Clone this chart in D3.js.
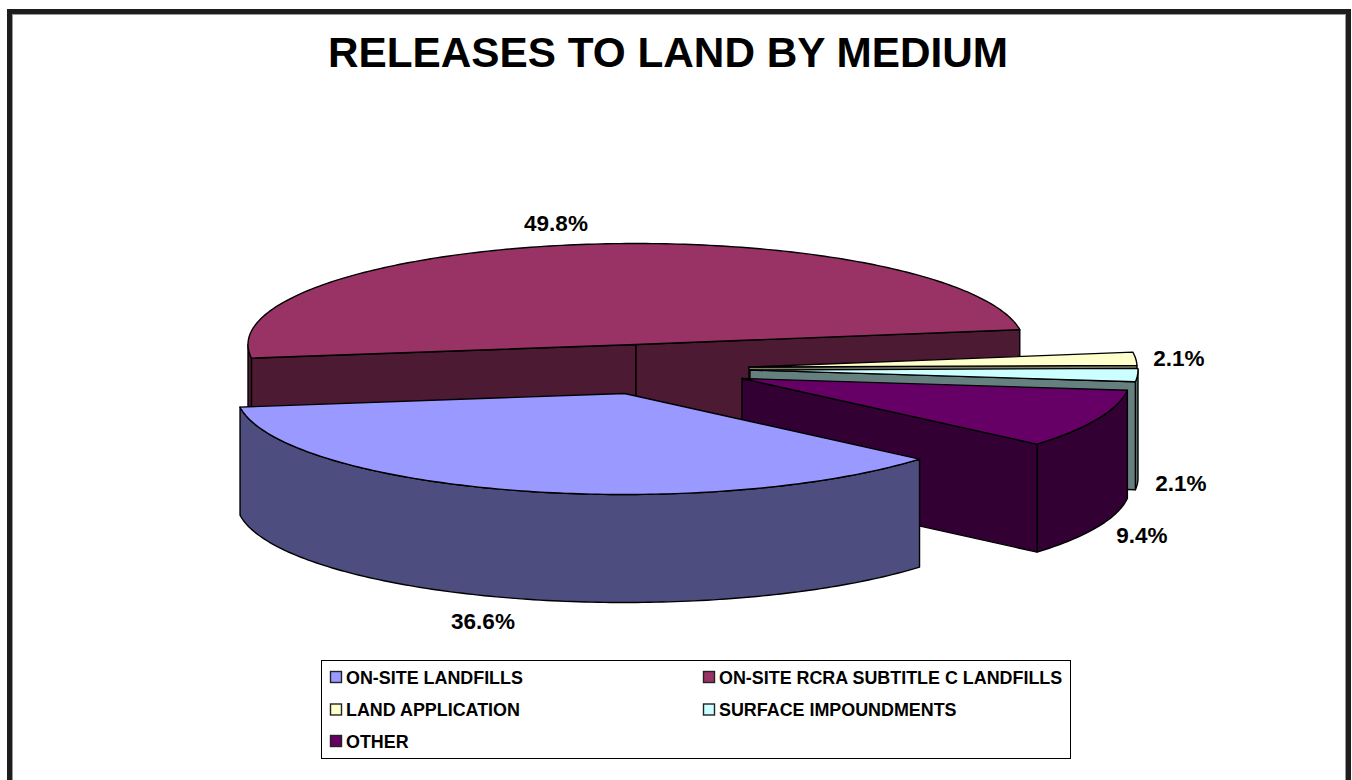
<!DOCTYPE html>
<html>
<head>
<meta charset="utf-8">
<script src="https://cdn.jsdelivr.net/npm/d3@7"></script>
<style>
  html, body { margin: 0; padding: 0; background: #fff; overflow: hidden; }
  text { font-family: "Liberation Sans", Arial, sans-serif; font-weight: bold; fill: #000; }
</style>
</head>
<body>
<svg id="chart" width="1352" height="780"></svg>
<script>
// Share of releases to land, by medium (percent)
const categories = ["ON-SITE LANDFILLS", "ON-SITE RCRA SUBTITLE C LANDFILLS", "LAND APPLICATION", "SURFACE IMPOUNDMENTS", "OTHER"];
const shares = [36.6, 49.8, 2.1, 2.1, 9.4];
const shareLabels = ["36.6%", "49.8%", "2.1%", "2.1%", "9.4%"];
const topColors = ["#9999ff", "#993366", "#ffffcc", "#ccffff", "#660066"];
const wallColors = ["#4d4d80", "#4d1a33", "#80806a", "#668080", "#330033"];

// Projection of the disc: ellipse radii, wall height, and where each exploded slice's tip lands
const radiusX = 388, radiusY = 101, depth = 108;
const tipX = [624.5, 636, 749, 750, 742];
const tipY = [393.5, 344.5, 367, 370, 378.5];
const labelX = [483, 556, 1179, 1181, 1142];
const labelY = [621, 223, 358, 483, 535];
const drawOrder = [1, 2, 3, 4, 0];

const svg = d3.select("#chart");

// Heavy outer frame, open at the bottom edge of the page, with a thin grey inner edge
svg.append("rect").attr("x", 12.5).attr("y", 14.5).attr("width", 1333).attr("height", 800)
  .attr("fill", "#fff").attr("stroke", "#999").attr("stroke-width", 1);
svg.append("rect").attr("x", 9.5).attr("y", 11.5).attr("width", 1339).attr("height", 800)
  .attr("fill", "none").attr("stroke", "#1f1c1c").attr("stroke-width", 5);

svg.append("text").attr("x", 668).attr("y", 67).attr("text-anchor", "middle")
  .style("font-size", "42.3px").text("RELEASES TO LAND BY MEDIUM");

const pie = d3.pie().sort(null).startAngle(130.5 * Math.PI / 180).endAngle((130.5 + 360) * Math.PI / 180);
const slices = pie(shares);

const rimX = d3.scaleLinear().domain([0, 1]).range([0, radiusX]);
const rimY = d3.scaleLinear().domain([0, 1]).range([0, radiusY]);
const line = d3.line();

function rimPoint(i, angle, drop) {
  return [tipX[i] + rimX(Math.sin(angle)), tipY[i] - rimY(Math.cos(angle)) + drop];
}
function rimSamples(i, a0, a1, drop) {
  const steps = Math.max(2, Math.ceil(Math.abs(a1 - a0) * 60));
  return d3.range(steps + 1).map(k => rimPoint(i, a0 + (a1 - a0) * k / steps, drop));
}

const layer = svg.append("g").attr("stroke", "#000").attr("stroke-width", 1.4).attr("stroke-linejoin", "round");

drawOrder.forEach(i => {
  const s = slices[i];
  const tip = [tipX[i], tipY[i]];
  const tipLow = [tipX[i], tipY[i] + depth];
  const a0 = s.startAngle, a1 = s.endAngle;
  const g = layer.append("g");

  // Radial walls that face the viewer: the interior of the slice lies above the edge on screen
  const radial = [];
  if (i !== 0) {
    [[a0, rimPoint(i, a0, 0)], [a1, rimPoint(i, a1, 0)]].forEach(([a, p]) => {
      const nextInside = a === a0 ? a + 0.01 : a - 0.01;
      if (Math.cos(a) - Math.cos(nextInside) < 0 || i === 1) radial.push(p);
    });
  }
  // Outer rim wall: only the front half of the ellipse shows
  const wallArcs = [];
  if (i === 0) wallArcs.push([a0, a1]);
  if (i === 1) {
    wallArcs.push([a0, 3 * Math.PI / 2]);
    wallArcs.push([5 * Math.PI / 2, a1]);
  }
  if (i >= 2) wallArcs.push([Math.max(a0, 5 * Math.PI / 2), a1]);
  wallArcs.forEach(([b0, b1]) => {
    if (b1 <= b0) return;
    const upper = rimSamples(i, b0, b1, 0);
    const lower = rimSamples(i, b1, b0, depth);
    g.append("path").attr("d", line(upper.concat(lower)) + "Z").attr("fill", wallColors[i]);
  });
  radial.forEach(p => {
    g.append("path")
      .attr("d", line([tip, p, [p[0], p[1] + depth], tipLow]) + "Z")
      .attr("fill", wallColors[i]);
  });

  // Top face of the slice
  g.append("path")
    .attr("d", line([tip].concat(rimSamples(i, a0, a1, 0))) + "Z")
    .attr("fill", topColors[i]);
});

// Percentage labels
svg.append("g").selectAll("text").data(shareLabels).join("text")
  .attr("x", (d, i) => labelX[i]).attr("y", (d, i) => labelY[i])
  .attr("text-anchor", "middle").attr("dominant-baseline", "central")
  .style("font-size", "22.5px").text(d => d);

// Legend
const legendCols = [330, 703];
const legendRows = [677, 709.5, 741];
const legend = svg.append("g");
legend.append("rect").attr("x", 321.5).attr("y", 660.5).attr("width", 749).attr("height", 98)
  .attr("fill", "#fff").attr("stroke", "#000").attr("stroke-width", 1);
categories.forEach((c, i) => {
  const x = legendCols[i % 2], y = legendRows[Math.floor(i / 2)];
  legend.append("rect").attr("x", x + 0.5).attr("y", y - 5.5).attr("width", 11).attr("height", 11)
    .attr("fill", topColors[i]).attr("stroke", "#222").attr("stroke-width", 1.4);
  legend.append("text").attr("x", x + 16).attr("y", y + 6.5).style("font-size", "17.9px").text(c);
});
</script>
</body>
</html>
